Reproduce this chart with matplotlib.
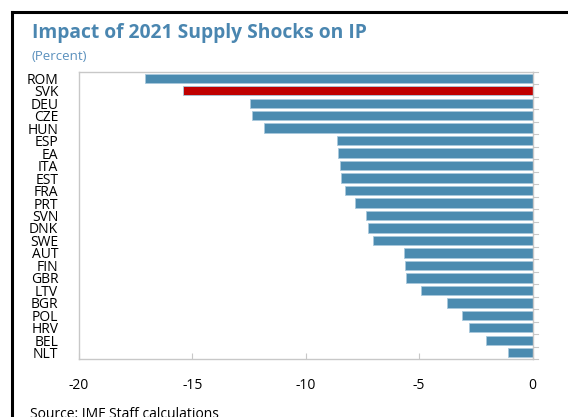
import matplotlib
matplotlib.use('Agg')
import matplotlib.pyplot as plt
from matplotlib.lines import Line2D

# data
countries = ['ROM', 'SVK', 'DEU', 'CZE', 'HUN', 'ESP', 'EA', 'ITA', 'EST', 'FRA',
             'PRT', 'SVN', 'DNK', 'SWE', 'AUT', 'FIN', 'GBR', 'LTV', 'BGR', 'POL',
             'HRV', 'BEL', 'NLT']
impact = [-17.10, -15.41, -12.44, -12.37, -11.84, -8.61, -8.59, -8.50, -8.44, -8.28,
          -7.81, -7.35, -7.24, -7.02, -5.65, -5.61, -5.59, -4.92, -3.78, -3.11,
          -2.80, -2.06, -1.09]
highlight = 'SVK'
xticks = [-20, -15, -10, -5, 0]

blue = '#4b8bb0'
red = '#c00000'
grey = '#c8c8c8'

plt.rcParams['font.family'] = ['Open Sans', 'DejaVu Sans']

fig = plt.figure(figsize=(5.68, 4.17), dpi=100)
ax = fig.add_axes([79 / 568, 1 - 359 / 417, 453.5 / 568, 287 / 417])

colors = [red if c == highlight else blue for c in countries]
ypos = list(range(len(countries)))
ax.barh(ypos, impact, height=0.75, color=colors, edgecolor='#a8c8dc',
        linewidth=0.6)

ax.set_xlim(-20, 0)
ax.set_ylim(len(countries) - 0.5, -0.5)

ax.set_xticks(xticks)
ax.set_xticklabels([str(t) for t in xticks], fontsize=10)
ax.tick_params(axis='x', direction='in', length=4, color=grey, pad=14)

# y labels on the left, tick marks on the right between the bars
ax.set_yticks(ypos)
ax.set_yticklabels(countries, fontsize=10)
ax.tick_params(axis='y', length=0, pad=15)
for i in range(len(countries) + 1):
    ax.add_line(Line2D([1.0, 1.012], [i - 0.5, i - 0.5], transform=ax.get_yaxis_transform(),
                       color=grey, lw=0.8, clip_on=False))

for s in ax.spines.values():
    s.set_color(grey)
    s.set_linewidth(1.0)

fig.text(32 / 568, 1 - 33 / 417, 'Impact of 2021 Supply Shocks on IP', fontsize=13.9,
         fontweight='bold', color='#4a86b0', va='center', ha='left')
fig.text(32 / 568, 1 - 56 / 417, '(Percent)', fontsize=9.5, color='#5a90bd',
         va='center', ha='left')
fig.text(30 / 568, 1 - 414 / 417, 'Source: IMF Staff calculations', fontsize=10,
         color='black', va='center', ha='left')

# black frame running off the right and bottom edges
fig.add_artist(Line2D([12 / 568, 12 / 568], [0, 1 - 11.5 / 417], transform=fig.transFigure,
                      color='black', lw=2.2))
fig.add_artist(Line2D([12 / 568, 1], [1 - 11.5 / 417, 1 - 11.5 / 417], transform=fig.transFigure,
                      color='black', lw=2.2))

fig.savefig('out.png', dpi=100)
